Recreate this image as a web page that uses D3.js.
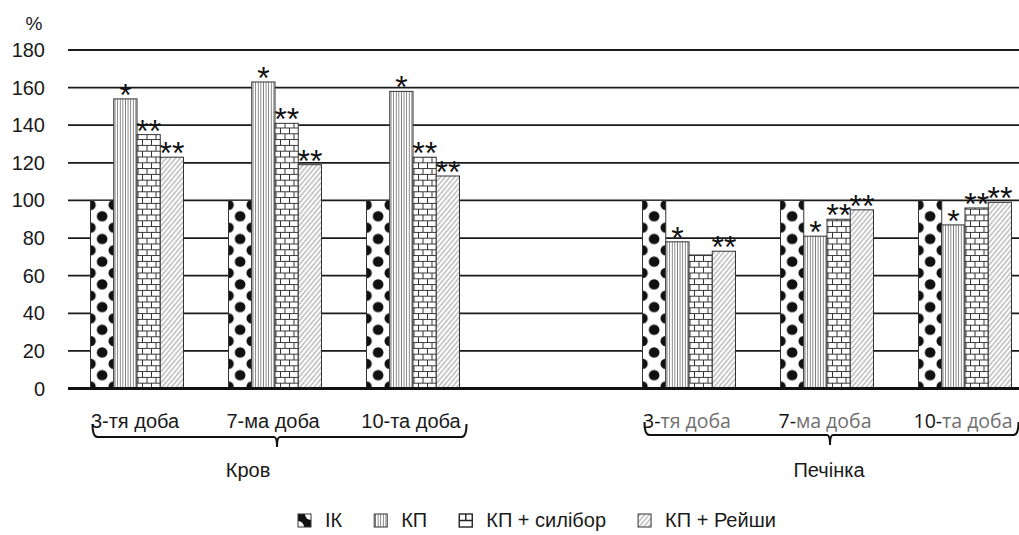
<!DOCTYPE html>
<html>
<head>
  <meta charset="utf-8">
  <script src="https://d3js.org/d3.v7.min.js" type="text/javascript"></script>
  <style>
    body { margin: 0; background: #fff; }
    text { font-family: "Liberation Sans", Arial, sans-serif; }
  </style>
</head>
<body>
<svg id="svg" width="1019" height="535"></svg>

<script type="text/javascript">
  // data
  var organs = ["Кров", "Печінка"];
  var days = ["3-тя доба", "7-ма доба", "10-та доба"];
  var series = ["ІК", "КП", "КП + силібор", "КП + Рейши"];

  var ik        = [100, 100, 100, 100, 100, 100];
  var kp        = [154, 163, 158, 78, 81, 87];
  var kpSilibor = [135, 141, 123, 71, 90, 96];
  var kpReishi  = [123, 119, 113, 73, 95, 99];

  var ikMarks      = ["", "", "", "", "", ""];
  var kpMarks      = ["*", "*", "*", "*", "*", "*"];
  var siliborMarks = ["**", "**", "**", "", "**", "**"];
  var reishiMarks  = ["**", "**", "**", "**", "**", "**"];

  var yTicks = [0, 20, 40, 60, 80, 100, 120, 140, 160, 180];

  var svg = d3.select("svg");
  // (not "top": that name is taken by window.top)
  var plotL = 68, plotR = 1034, plotT = 50, plotB = 388.5;

  // 7 slots: three for blood, an empty one, three for liver
  var slots = [];
  organs.forEach(function(o, i) {
    days.forEach(function(d, j) { slots.push({organ: o, day: d, idx: i * 3 + j}); });
    if (i == 0) slots.push({organ: null, day: null, idx: -1});
  });
  var slotKeys = slots.map(function(s, i) { return "s" + i; });

  var x = d3.scaleBand().domain(slotKeys).range([plotL, plotR]).padding(0);
  var groupW = 93;
  var xi = d3.scaleBand().domain(series).range([0, groupW]).padding(0);
  var y = d3.scaleLinear().domain([0, 180]).range([plotB, plotT]);

  var values = [ik, kp, kpSilibor, kpReishi];
  var marks = [ikMarks, kpMarks, siliborMarks, reishiMarks];

  // patterns
  var defs = svg.append("defs");
  var bw = xi.bandwidth();

  var pDots = defs.append("pattern").attr("id", "dots")
    .attr("patternUnits", "userSpaceOnUse").attr("width", bw).attr("height", 22.7)
    .attr("y", plotB - 2);
  pDots.append("rect").attr("width", bw).attr("height", 22.7).attr("fill", "#fff");
  [[bw / 2, 11.35], [0, 0], [bw, 0], [0, 22.7], [bw, 22.7]].forEach(function(c) {
    pDots.append("circle").attr("cx", c[0]).attr("cy", c[1]).attr("r", 5.3).attr("fill", "#111");
  });

  var pVert = defs.append("pattern").attr("id", "vert")
    .attr("patternUnits", "userSpaceOnUse").attr("width", 2.6).attr("height", 10);
  pVert.append("rect").attr("width", 2.6).attr("height", 10).attr("fill", "#fff");
  pVert.append("line").attr("x1", 1.3).attr("x2", 1.3).attr("y1", 0).attr("y2", 10)
    .attr("stroke", "#777").attr("stroke-width", 0.9);

  var pBrick = defs.append("pattern").attr("id", "brick")
    .attr("patternUnits", "userSpaceOnUse").attr("width", 9).attr("height", 11.6)
    .attr("y", plotB);
  pBrick.append("rect").attr("width", 9).attr("height", 11.6).attr("fill", "#fff");
  pBrick.append("path")
    .attr("d", "M0,0.5H9M0,6.3H9M1,0.5V6.3M5.5,6.3V11.6")
    .attr("stroke", "#333").attr("stroke-width", 1).attr("fill", "none");

  var pHatch = defs.append("pattern").attr("id", "hatch")
    .attr("patternUnits", "userSpaceOnUse").attr("width", 3.6).attr("height", 10)
    .attr("patternTransform", "rotate(40)");
  pHatch.append("rect").attr("width", 3.6).attr("height", 10).attr("fill", "#fff");
  pHatch.append("line").attr("x1", 1.8).attr("x2", 1.8).attr("y1", 0).attr("y2", 10)
    .attr("stroke", "#666").attr("stroke-width", 0.7);

  var fills = ["url(#dots)", "url(#vert)", "url(#brick)", "url(#hatch)"];

  // grid lines
  svg.append("g").selectAll("line")
    .data(yTicks.filter(function(t) { return t > 0; }))
    .enter().append("line")
      .attr("x1", plotL).attr("x2", plotR)
      .attr("y1", function(d) { return y(d); }).attr("y2", function(d) { return y(d); })
      .attr("stroke", "#1a1a1a").attr("stroke-width", 1.8);

  // tick labels
  svg.append("g").selectAll("text")
    .data(yTicks).enter().append("text")
      .attr("x", 45).attr("y", function(d) { return y(d) + 7; })
      .attr("text-anchor", "end").attr("font-size", 20).attr("fill", "#1a1a1a")
      .text(function(d) { return d; });
  svg.append("text").attr("x", 34).attr("y", 30).attr("text-anchor", "middle")
    .attr("font-size", 19).attr("fill", "#1a1a1a").text("%");

  // bars, each group translated so patterns line up with the bar
  var offset = (x.bandwidth() - groupW) / 2;
  slots.forEach(function(s, si) {
    if (s.idx < 0) return;
    series.forEach(function(name, k) {
      var v = values[k][s.idx];
      var g = svg.append("g")
        .attr("transform", "translate(" + (x(slotKeys[si]) + offset + xi(name)) + ",0)");
      g.append("rect")
        .attr("x", 0).attr("width", bw)
        .attr("y", y(v)).attr("height", plotB - y(v))
        .attr("fill", fills[k]).attr("stroke", "#333").attr("stroke-width", 1);
      var m = marks[k][s.idx];
      if (m) {
        g.append("text").attr("x", bw / 2).attr("y", y(v) + 7)
          .attr("text-anchor", "middle").attr("font-size", 32).attr("fill", "#111")
          .text(m);
      }
    });
  });

  // baseline
  svg.append("line").attr("x1", plotL).attr("x2", plotR)
    .attr("y1", y(0)).attr("y2", y(0)).attr("stroke", "#111").attr("stroke-width", 3);

  // day labels
  slots.forEach(function(s, si) {
    if (s.idx < 0) return;
    var cx = x(slotKeys[si]) + x.bandwidth() / 2;
    if (s.organ == "Кров") {
      svg.append("text").attr("x", cx - 2).attr("y", 428).attr("text-anchor", "middle")
        .attr("font-size", 20).attr("fill", "#1a1a1a").text(s.day);
    } else {
      var parts = s.day.split("-");
      var t = svg.append("text").attr("x", cx - 2).attr("y", 428).attr("text-anchor", "middle")
        .attr("font-size", 19.5).style("font-family", "'Open Sans', sans-serif");
      t.append("tspan").attr("fill", "#111").text(parts[0] + "-");
      t.append("tspan").attr("fill", "#707070").text(parts[1]);
    }
  });

  // braces under each organ
  function brace(x0, x1, cx, y0) {
    return "M" + x0 + "," + (y0 - 13) + "Q" + x0 + "," + y0 + " " + (x0 + 5) + "," + y0 +
      "L" + (cx - 3) + "," + y0 + "Q" + cx + "," + y0 + " " + cx + "," + (y0 + 10) +
      "Q" + cx + "," + y0 + " " + (cx + 3) + "," + y0 +
      "L" + (x1 - 5) + "," + y0 + "Q" + x1 + "," + y0 + " " + x1 + "," + (y0 - 13);
  }
  var braceSets = [
    {label: "Кров", first: 0, last: 2, mid: 277, lx: 248, y0: 437},
    {label: "Печінка", first: 4, last: 6, mid: 830, lx: 829, y0: 435}
  ];
  braceSets.forEach(function(b) {
    var x0 = x(slotKeys[b.first]) + offset + 2;
    var x1 = x(slotKeys[b.last]) + offset + groupW + 7;
    svg.append("path").attr("d", brace(x0, x1, b.mid, b.y0))
      .attr("fill", "none").attr("stroke", "#111").attr("stroke-width", 2);
    svg.append("text").attr("x", b.lx).attr("y", 477).attr("text-anchor", "middle")
      .attr("font-size", 20).attr("fill", "#1a1a1a").text(b.label);
  });

  // legend
  var legPats = defs.append("pattern").attr("id", "legDots")
    .attr("patternUnits", "userSpaceOnUse").attr("width", 13).attr("height", 13);
  legPats.append("rect").attr("width", 13).attr("height", 13).attr("fill", "#111");
  legPats.append("circle").attr("cx", 13).attr("cy", 0).attr("r", 6).attr("fill", "#fff");
  legPats.append("circle").attr("cx", 0).attr("cy", 13).attr("r", 6).attr("fill", "#fff");
  var legFills = ["url(#legDots)", "url(#vert)", null, "url(#hatch)"];

  var lx = 298, ly = 514;
  series.forEach(function(name, k) {
    var g = svg.append("g").attr("transform", "translate(" + lx + "," + ly + ")");
    if (k == 2) {
      g.append("rect").attr("width", 13).attr("height", 13).attr("fill", "#fff")
        .attr("stroke", "#222").attr("stroke-width", 1.4);
      g.append("path").attr("d", "M0,6.5H13M6.5,0V6.5").attr("stroke", "#222").attr("stroke-width", 1.4);
    } else {
      g.append("rect").attr("width", 13).attr("height", 13).attr("fill", legFills[k])
        .attr("stroke", "#333").attr("stroke-width", 1);
    }
    var t = g.append("text").attr("x", 27).attr("y", 13).attr("font-size", 20)
      .attr("fill", "#1a1a1a").text(name);
    lx += 27 + t.node().getComputedTextLength() + 32;
  });
</script>
</body>
</html>
